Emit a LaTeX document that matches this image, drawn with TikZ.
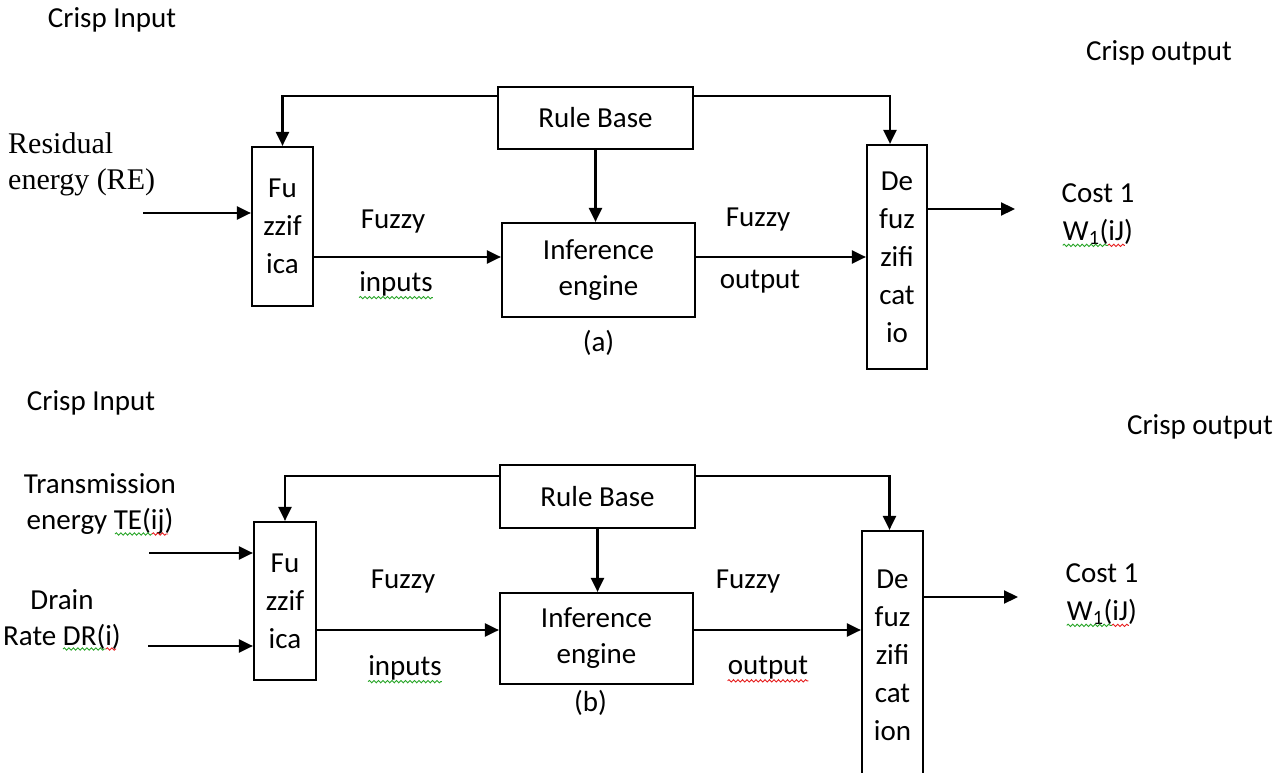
\documentclass[tikz,border=0pt]{standalone}
\usepackage{fontspec}
\setmainfont{Carlito}
\newfontfamily\resfont{Liberation Serif}
\usetikzlibrary{positioning, arrows.meta, calc, decorations.pathmorphing}
\definecolor{sqgreen}{RGB}{40,165,40}
\definecolor{sqred}{RGB}{230,30,30}

\tikzset{
    blk/.style={draw, line width=2.2pt, inner sep=0pt, align=center},
    blktxt/.style={font=\fontsize{29}{38}\selectfont},
    arr/.style={line width=2.2pt, -{Triangle[length=14pt, width=13pt]}},
    squig/.style={decorate, decoration={snake, amplitude=1.2pt, segment length=4.5pt}, line width=0.9pt},
}

\begin{document}
\begin{tikzpicture}[x=1pt, y=-1pt, inner sep=0pt, font=\fontsize{29}{36}\selectfont]
    \useasboundingbox (0,0) rectangle (1286,773);
    \clip (0,0) rectangle (1286,773);

    % (a)
    \node[blk, minimum width=195pt, minimum height=62pt] (ruleA) at (595.5,118) {Rule Base};
    \node[blk, blktxt, minimum width=61pt, minimum height=159pt] (fuzA) at (282.5,226.5) {Fu\\zzif\\ica};
    \node[blk, minimum width=193pt, minimum height=94pt] (infA) at (598.5,270) {Inference\\engine};
    \node[blk, blktxt, minimum width=60pt, minimum height=224pt] (defA) at (897,257) {De\\fuz\\zifi\\cat\\io};

    \node (crispInA) at (112,20) {Crisp Input};
    \node (crispOutA) at (1159,53) {Crisp output};
    \node[align=left, anchor=west, font=\resfont\fontsize{30}{36}\selectfont] (reA) at (8,164) {Residual\\energy (RE)};
    \node (fzInA) at (393,222) {Fuzzy};
    \node (inpA) at (396,284) {inputs};
    \node (fzOutA) at (758,220) {Fuzzy};
    \node (outlA) at (760,282) {output};
    \node (costA) at (1098,193) {Cost 1};
    \node (wA) at (1098,232) {W\textsubscript{1}(iJ)};
    \node[below=12pt of infA] (capA) {(a)};

    \coordinate (inA) at (143,213);
    \coordinate (fiA) at ([yshift=-30.5pt]fuzA.east);
    \coordinate (outA) at (1015,209);

    \draw[arr] ([yshift=-10.5pt]ruleA.north west) -| (fuzA.north);
    \draw[arr] ([yshift=-10pt]ruleA.north east) -| ([xshift=-7pt]defA.north);
    \draw[arr] (ruleA.south) -- (ruleA.south |- infA.north);
    \draw[arr] (inA) -- (inA -| fuzA.west);
    \draw[arr] (fiA) -- (fiA -| infA.west);
    \draw[arr] (infA.east |- defA.west) -- (defA.west);
    \draw[arr] (outA -| defA.east) -- (outA);

    \draw[squig, sqgreen] ($(inpA.base west)+(0,6)$) -- ($(inpA.base east)+(0,6)$);
    \draw[squig, sqgreen] ($(wA.base west)+(0,5)$) -- ($(wA.base west)!0.64!(wA.base east)+(0,5)$);
    \draw[squig, sqred] ($(wA.base west)!0.64!(wA.base east)+(0,5)$) -- ($(wA.base west)!0.88!(wA.base east)+(0,5)$);

    % (b)
    \node[blk, minimum width=195pt, minimum height=63pt] (ruleB) at (597.5,496.5) {Rule Base};
    \node[blk, blktxt, minimum width=62pt, minimum height=158pt] (fuzB) at (285,601) {Fu\\zzif\\ica};
    \node[blk, minimum width=193pt, minimum height=91pt] (infB) at (596.5,638.5) {Inference\\engine};
    \node[blk, blktxt, minimum width=61pt, minimum height=249pt] (defB) at (892.5,655.5) {De\\fuz\\zifi\\cat\\ion};

    \node (crispInB) at (91,403) {Crisp Input};
    \node (crispOutB) at (1200,427) {Crisp output};
    \node[align=center] (teB) at (100,504) {Transmission\\energy TE(ij)};
    \node[align=center] (drB) at (62,620) {Drain\\Rate DR(i)};
    \node (fzInB) at (403,582) {Fuzzy};
    \node (inpB) at (405,668) {inputs};
    \node (fzOutB) at (748,582) {Fuzzy};
    \node (outlB) at (768,668) {output};
    \node (costB) at (1102,573) {Cost 1};
    \node (wB) at (1102,612) {W\textsubscript{1}(iJ)};
    \node[below=5pt of infB, xshift=-6pt] (capB) {(b)};

    \coordinate (inTE) at (149,553);
    \coordinate (inDR) at (148,646);
    \coordinate (fiB) at ([yshift=-29pt]fuzB.east);
    \coordinate (outB) at (1018,597);

    \draw[arr] ([yshift=-12pt]ruleB.north west) -| (fuzB.north);
    \draw[arr] ([yshift=-12pt]ruleB.north east) -| ([xshift=-3pt]defB.north);
    \draw[arr] (ruleB.south) -- (ruleB.south |- infB.north);
    \draw[arr] (inTE) -- (inTE -| fuzB.west);
    \draw[arr] (inDR) -- (inDR -| fuzB.west);
    \draw[arr] (fiB) -- (fiB -| infB.west);
    \draw[arr] (fiB -| infB.east) -- (fiB -| defB.west);
    \draw[arr] (outB -| defB.east) -- (outB);

    \draw[squig, sqgreen] ($(teB.center)+(15,30)$) -- ($(teB.center)+(52,30)$);
    \draw[squig, sqred] ($(teB.center)+(52,30)$) -- ($(teB.center)+(68,30)$);
    \draw[squig, sqgreen] ($(drB.center)+(1,29)$) -- ($(drB.center)+(44,29)$);
    \draw[squig, sqred] ($(drB.center)+(44,29)$) -- ($(drB.center)+(54,29)$);
    \draw[squig, sqgreen] ($(inpB.base west)+(0,6)$) -- ($(inpB.base east)+(0,6)$);
    \draw[squig, sqred] ($(outlB.base west)+(0,6)$) -- ($(outlB.base east)+(0,6)$);
    \draw[squig, sqgreen] ($(wB.base west)+(0,5)$) -- ($(wB.base west)!0.64!(wB.base east)+(0,5)$);
    \draw[squig, sqred] ($(wB.base west)!0.64!(wB.base east)+(0,5)$) -- ($(wB.base west)!0.88!(wB.base east)+(0,5)$);
\end{tikzpicture}
\end{document}
